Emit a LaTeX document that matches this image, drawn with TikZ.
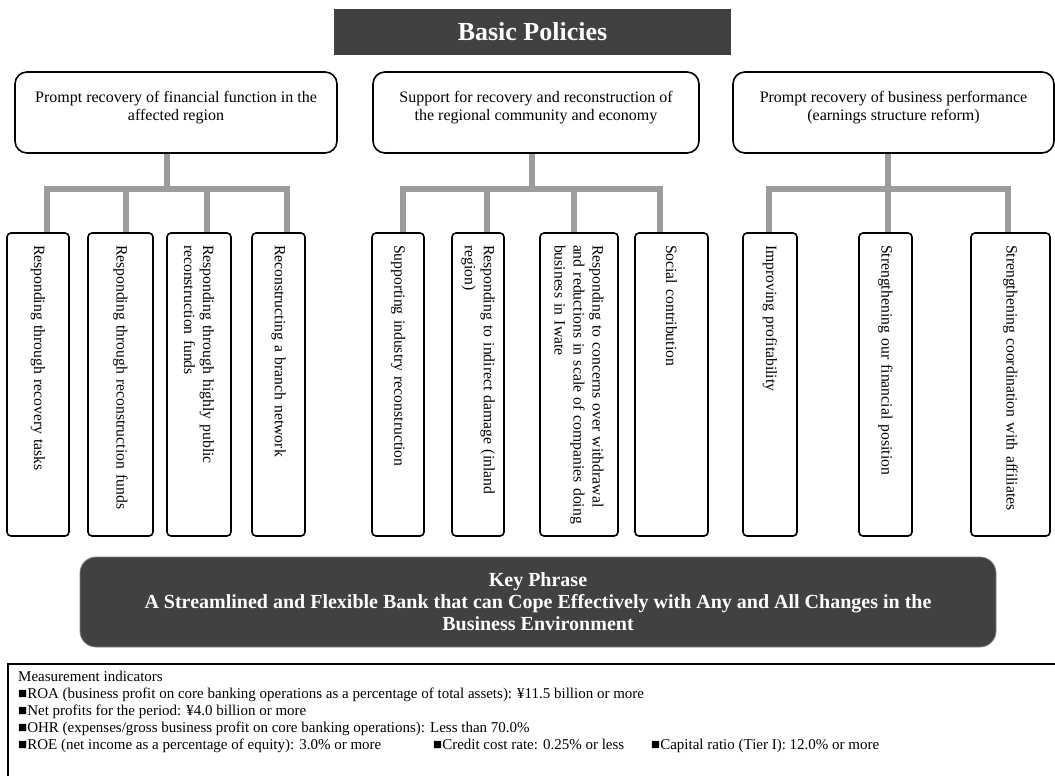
\documentclass[tikz,border=0pt]{standalone}
\usepackage{fontspec}
\setmainfont{Liberation Serif}
\usetikzlibrary{calc}
\definecolor{darkfill}{HTML}{414141}
\definecolor{linkgray}{HTML}{9C9C9C}
\begin{document}
\begin{tikzpicture}[x=1pt,y=-1pt,
  policy/.style={draw=black, line width=1.6pt, rounded corners=12pt, inner sep=0pt, minimum height=81pt},
  branch/.style={draw=black, line width=1.6pt, rounded corners=4pt, rotate=-90,
    inner xsep=12pt, inner ysep=0pt, minimum width=303pt, text width=279pt, align=left,
    font=\fontsize{15.7}{19}\selectfont},
  conn/.style={draw=linkgray, line width=5.5pt},
]
\useasboundingbox (0,0) rectangle (1055,776);

% title bar
\node[fill=darkfill, minimum width=397pt, minimum height=46pt, inner sep=0pt, text=white,
  font=\fontsize{26}{30}\selectfont\bfseries] (head) at (532.5,32) {Basic Policies};

% three policy boxes
\node[policy, minimum width=322pt] (p1) at (176,112.5)
  {\parbox[c][81pt][t]{310pt}{\centering\fontsize{16}{18.4}\selectfont\vspace*{19pt}Prompt recovery of financial function in the\\affected region}};
\node[policy, minimum width=326pt] (p2) at (536,112.5)
  {\parbox[c][81pt][t]{314pt}{\centering\fontsize{16}{18.4}\selectfont\vspace*{19pt}Support for recovery and reconstruction of\\the regional community and economy}};
\node[policy, minimum width=321pt] (p3) at (893.5,112.5)
  {\parbox[c][81pt][t]{309pt}{\centering\fontsize{16}{18.4}\selectfont\vspace*{19pt}Prompt recovery of business performance\\(earnings structure reform)}};

% measures, written top to bottom
\node[branch, minimum height=62pt] (c1) at (38,384.5) {\mbox{Responding through recovery tasks}};
\node[branch, minimum height=65pt] (c2) at (120.5,384.5) {\mbox{Responding through reconstruction funds}};
\node[branch, minimum height=64pt] (c3) at (199,384.5) {\mbox{Responding through highly public}\\\mbox{reconstruction funds}};
\node[branch, minimum height=53pt] (c4) at (278.5,384.5) {\mbox{Reconstructing a branch network}};
\node[branch, minimum height=52pt] (c5) at (398,384.5) {\mbox{Supporting industry reconstruction}};
\node[branch, minimum height=52pt] (c6) at (478,384.5) {\mbox{Responding to indirect damage (inland}\\\mbox{region)}};
\node[branch, minimum height=78pt] (c7) at (579,384.5) {\mbox{Responding to concerns over withdrawal}\\\mbox{and reductions in scale of companies doing}\\\mbox{business in Iwate}};
\node[branch, minimum height=73pt] (c8) at (671.5,384.5) {\mbox{Social contribution}};
\node[branch, minimum height=54pt] (c9) at (770,384.5) {\mbox{Improving profitability}};
\node[branch, minimum height=53pt] (c10) at (885.5,384.5) {\mbox{Strengthening our financial position}};
\node[branch, minimum height=79pt] (c11) at (1010.5,384.5) {\mbox{Strengthening coordination with affiliates}};

% tree connectors
\coordinate (j1) at (167,189);
\coordinate (j2) at (532,189);
\coordinate (j3) at (888,189);
\draw[conn] (j1 |- p1.south) -- (j1);
\draw[conn] (j2 |- p2.south) -- (j2);
\draw[conn] (j3 |- p3.south) -- (j3);

\draw[conn] ($(c1.west)+(9,0)$) |- (j1) -| ($(c4.west)+(8.5,0)$);
\draw[conn] ($(c2.west)+(5.5,0)$) -- ($(c2.west)+(5.5,-44)$);
\draw[conn] ($(c3.west)+(8,0)$) -- ($(c3.west)+(8,-44)$);

\draw[conn] ($(c5.west)+(5,0)$) |- (j2) -| ($(c8.west)+(-11.5,0)$);
\draw[conn] ($(c6.west)+(9,0)$) -- ($(c6.west)+(9,-44)$);
\draw[conn] ($(c7.west)+(-5,0)$) -- ($(c7.west)+(-5,-44)$);

\draw[conn] ($(c9.west)+(-1,0)$) |- (j3) -| ($(c11.west)+(-2.5,0)$);
\draw[conn] ($(c10.west)+(2.5,0)$) -- ($(c10.west)+(2.5,-44)$);

% key phrase banner
\node[fill=darkfill, draw=gray, line width=0.8pt, rounded corners=16pt, minimum width=916pt,
  minimum height=90pt, inner sep=0pt, text=white, align=center,
  font=\fontsize{20}{22}\selectfont\bfseries] (key) at (538,602)
  {Key Phrase\\A Streamlined and Flexible Bank that can Cope Effectively with Any and All Changes in the\\Business Environment};

% measurement indicators panel
\node[draw=black, line width=1.6pt, anchor=north west, minimum width=1070pt, minimum height=140pt,
  inner sep=0pt] (meas) at (7,663) {};
\node[anchor=north west, align=left, inner sep=0pt, font=\fontsize{15}{17}\selectfont] (mtext) at (18,670.5)
  {Measurement indicators\\
   ■ROA (business profit on core banking operations as a percentage of total assets): ¥11.5 billion or more\\
   ■Net profits for the period: ¥4.0 billion or more\\
   ■OHR (expenses/gross business profit on core banking operations): Less than 70.0\%\\
   \makebox[415pt][l]{■ROE (net income as a percentage of equity): 3.0\% or more}\makebox[218pt][l]{■Credit cost rate: 0.25\% or less}■Capital ratio (Tier I): 12.0\% or more};
\end{tikzpicture}
\end{document}
